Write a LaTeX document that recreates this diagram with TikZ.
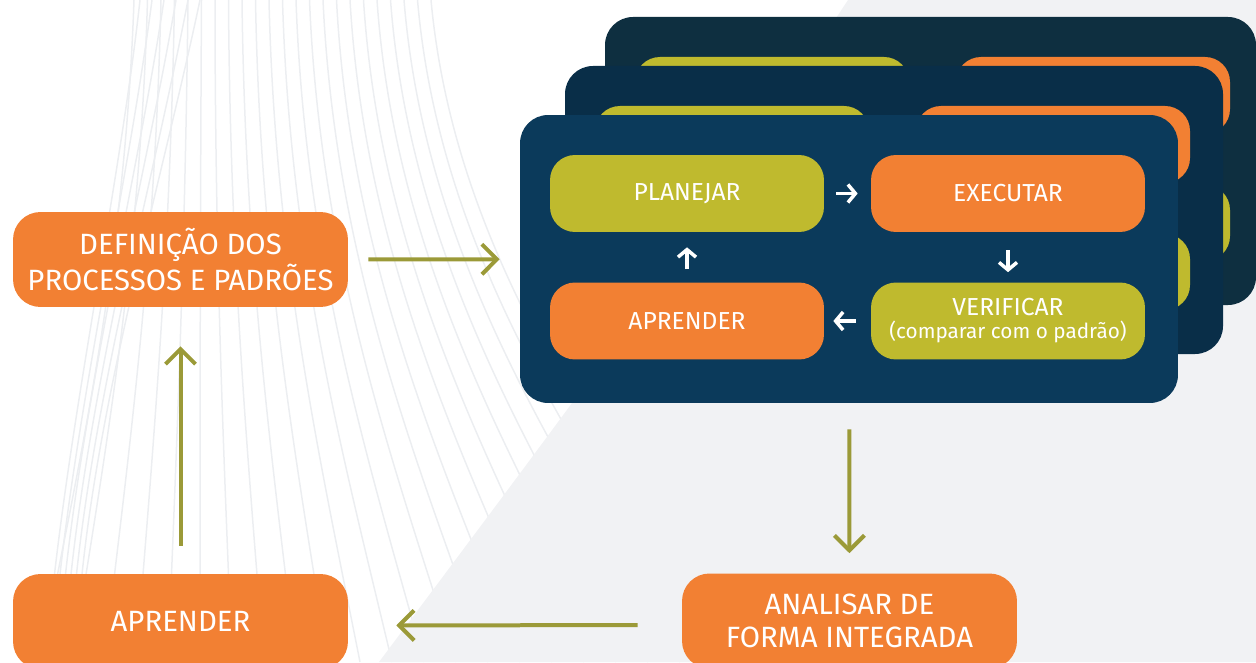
\documentclass[tikz,border=0pt]{standalone}
\usepackage{fontspec}
\setmainfont{Fira Sans}
\usetikzlibrary{arrows.meta}
\definecolor{boxorange}{HTML}{F28033}
\definecolor{boxgreen}{HTML}{BFBA2E}
\definecolor{arrowolive}{HTML}{9B9A38}
\definecolor{cardfront}{HTML}{0B3A5B}
\definecolor{cardmid}{HTML}{092E48}
\definecolor{cardback}{HTML}{0E2F40}
\definecolor{bggray}{HTML}{F1F2F4}
\definecolor{bgline}{HTML}{ECEEF1}
\newcommand{\subfont}{\fontsize{11.8}{13}\selectfont}
\tikzstyle{bigbox} = [rectangle, rounded corners=0.55cm, minimum width=6.7cm, minimum height=1.9cm, inner sep=0pt, align=center, fill=boxorange, text=white, font=\fontsize{16.7}{19}\selectfont]
\tikzstyle{cyclebox} = [rectangle, rounded corners=0.5cm, minimum width=5.48cm, minimum height=1.54cm, inner sep=0pt, align=center, text=white, font=\fontsize{14}{15}\selectfont]
\tikzstyle{card} = [rectangle, rounded corners=0.56cm, minimum width=13.16cm, minimum height=5.76cm, inner sep=0pt, fill=cardfront]
\tikzstyle{arrow} = [line width=0.08cm, draw=arrowolive, -{Straight Barb[length=0.3cm, width=0.6cm]}]
\tikzstyle{minorarrow} = [line width=0.07cm, draw=white, -{Straight Barb[length=0.15cm, width=0.36cm]}]
\tikzstyle{bgcurve} = [line width=0.03cm, draw=bgline]

\begin{document}
\begin{tikzpicture}[x=0.02cm, y=-0.02cm]
    \useasboundingbox (0,0) rectangle (1256,662);
    \clip (0,0) rectangle (1256,662);

    % background lines and grey area
    \foreach \i in {0,...,22}
        \draw [bgcurve] (134+13.5*\i,0) .. controls (125+15*\i,260) and (80+24*\i,460) .. (40+32*\i,662);
    \foreach \j in {0,...,5}
        \draw [bgcurve] (140+12*\j,0) .. controls (118+8*\j,200) and (62+4*\j,450) .. (46+6*\j,662);
    \fill [bggray] (848,0) .. controls (650,300) .. (379,662) -| (1256,0) -- cycle;

    % stacked cards behind
    \foreach \dx/\dy/\col/\w in {85/-98/cardback/651, 45/-49/cardmid/658} {
        \fill [\col, rounded corners=0.56cm] (520+\dx,115+\dy) rectangle ++(\w,288);
        \fill [boxgreen, rounded corners=0.5cm] (550+\dx,155+\dy) rectangle ++(274,77);
        \fill [boxorange, rounded corners=0.5cm] (871+\dx,155+\dy) rectangle ++(274,77);
        \fill [boxorange, rounded corners=0.5cm] (550+\dx,283+\dy) rectangle ++(274,76);
        \fill [boxgreen, rounded corners=0.5cm] (871+\dx,283+\dy) rectangle ++(274,76);
    }

    \node (cycle) [card] at (849,259) {};
    \node (plan) [cyclebox, fill=boxgreen] at (687,193.5) {PLANEJAR};
    \node (exec) [cyclebox, fill=boxorange] at (1008,193.5) {EXECUTAR};
    \node (learn) [cyclebox, fill=boxorange] at (687,321) {APRENDER};
    \node (check) [cyclebox, fill=boxgreen] at (1008,321) {VERIFICAR\\[-2pt]{\subfont (comparar com o padrão)}};

    \node (define) [bigbox] at (180.5,259.5) {DEFINIÇÃO DOS\\PROCESSOS E PADRÕES};
    \node (learnall) [bigbox] at (180.5,621.5) {APRENDER};
    \node (analyse) [bigbox] at (849.5,621) {ANALISAR DE\\FORMA INTEGRADA};

    \draw [minorarrow, shorten <=0.24cm, shorten >=0.26cm] (plan) -- (exec);
    \draw [minorarrow, shorten <=0.36cm, shorten >=0.2cm] (exec) -- (check);
    \draw [minorarrow, shorten <=0.3cm, shorten >=0.18cm] (check) -- (learn);
    \draw [minorarrow, shorten <=0.26cm, shorten >=0.3cm] (learn) -- (plan);

    \draw [arrow, shorten <=0.4cm, shorten >=0.4cm] (define) -- (cycle);
    \draw [arrow, shorten <=0.52cm, shorten >=0.4cm] (cycle) -- (analyse);
    \draw [arrow, shorten <=0.88cm, shorten >=0.96cm] ([yshift=-0.08cm]analyse.west) -- ([yshift=-0.08cm]learnall.east);
    \draw [arrow, shorten <=0.56cm, shorten >=0.78cm] (learnall) -- (define);
\end{tikzpicture}
\end{document}
